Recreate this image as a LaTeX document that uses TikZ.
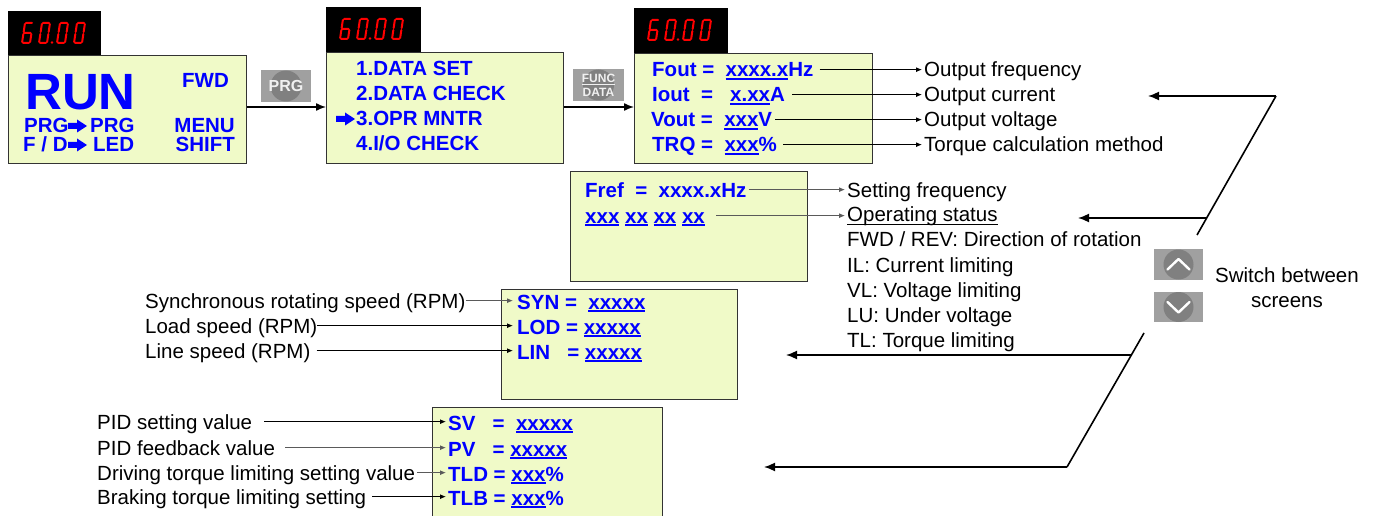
\documentclass[tikz,border=0pt]{standalone}
\usepackage{fontspec}
\setmainfont{Liberation Sans}
\usetikzlibrary{arrows.meta}
\definecolor{lcd}{RGB}{240,250,200}
\definecolor{btnbox}{RGB}{160,160,160}
\definecolor{btncirc}{RGB}{128,128,128}
\definecolor{lcdblue}{RGB}{0,0,255}
\definecolor{linegray}{RGB}{90,90,90}
\newcommand\fsz{\fontsize{20.5}{25}\selectfont}
\newsavebox\ulbox
\newcommand\myul[1]{\sbox\ulbox{#1}\rlap{\rule[-3.2pt]{\wd\ulbox}{1.8pt}}\usebox\ulbox}
\newcommand\myulthin[1]{\sbox\ulbox{#1}\rlap{\rule[-2.6pt]{\wd\ulbox}{1pt}}\usebox\ulbox}
\newcommand\dsix[2]{\begin{scope}[shift={(#1,#2)}, x={(1pt,0pt)}, y={(-0.15pt,-1pt)}]
 \draw[segs] (1,0)--(7,0) (0,1)--(0,9) (1,10)--(7,10) (0,11)--(0,19) (8,11)--(8,19) (1,20)--(7,20);
\end{scope}}
\newcommand\dzero[2]{\begin{scope}[shift={(#1,#2)}, x={(1pt,0pt)}, y={(-0.15pt,-1pt)}]
 \draw[segs] (1,0)--(7,0) (0,1)--(0,9) (8,1)--(8,9) (0,11)--(0,19) (8,11)--(8,19) (1,20)--(7,20);
\end{scope}}
\newcommand\sixty[2]{%
 \dsix{#1+17}{#2+12}\dzero{#1+34}{#2+12}%
 \fill[red] (#1+44,#2+31.5) circle (1.3);%
 \dzero{#1+52}{#2+12}\dzero{#1+69}{#2+12}}
\newcommand\blarrow[2]{\fill[lcdblue] (#1,#2) ++(0,-3) -- ++(9,0) -- ++(0,-3.5) -- ++(10,6.5) -- ++(-10,6.5) -- ++(0,-3.5) -- ++(-9,0) -- cycle;}
\begin{document}
\begin{tikzpicture}[x=1pt,y=-1pt,
 segs/.style={red, line width=2pt, line cap=round},
 bt/.style={font=\bfseries\fsz, text=lcdblue, inner sep=0pt, anchor=base west, text height=14.7pt, text depth=0pt},
 lt/.style={font=\fsz, text=black, inner sep=0pt, anchor=base west, text height=14.7pt, text depth=0pt},
 screen/.style={draw=black!80, line width=1.2pt, fill=lcd, inner sep=0pt, anchor=north west},
 disp/.style={fill=black, draw=none, inner sep=0pt, anchor=south west},
 btn/.style={fill=btnbox, draw=none, inner sep=0pt},
 lab/.style={-{Latex[length=6pt,width=5pt]}, line width=1pt, shorten >=2pt},
 labg/.style={lab, draw=linegray},
 flow/.style={-{Latex[length=10pt,width=8pt]}, line width=1.4pt},
 sw/.style={-{Latex[length=11pt,width=9pt]}, line width=1.6pt},
 swl/.style={line width=1.6pt},
]
\useasboundingbox (0,0) rectangle (1377,516);
\fill[white] (0,0) rectangle (1377,516);
\clip (0,0) rectangle (1377,516);

% ---------- screen 1 ----------
\node[disp, minimum width=93, minimum height=44] (d1) at (8,55) {};
\node[screen, minimum width=238, minimum height=108] (b1) at (8,55) {};
\sixty{8}{11}
\node[bt, font=\bfseries\fontsize{51}{51}\selectfont, text height=36.5pt] (run) at (25,110) {RUN};
\node[bt] (fwd) at (182,88) {FWD};
\node[bt] (prga) at (24,133) {PRG};
\blarrow{68}{126}
\node[bt] (prgb) at (90,133) {PRG};
\node[bt] (fd) at (23,152) {F / D};
\blarrow{68}{145}
\node[bt] (led) at (93,152) {LED};
\node[bt, anchor=base east] (menu) at (235,133) {MENU};
\node[bt, anchor=base east] (shft) at (235,152) {SHIFT};

% ---------- screen 2 ----------
\node[disp, minimum width=95, minimum height=45] (d2) at (326,52) {};
\node[screen, minimum width=237, minimum height=111] (b2) at (326,52) {};
\sixty{326}{7}
\node[bt] (m1) at (356,76) {1.DATA SET};
\node[bt] (m2) at (356,101) {2.DATA CHECK};
\blarrow{336}{119}
\node[bt] (m3) at (356,126) {3.OPR MNTR};
\node[bt] (m4) at (356,151) {4.I/O CHECK};

% ---------- screen 3 ----------
\node[disp, minimum width=94, minimum height=45] (d3) at (634,53) {};
\node[screen, minimum width=238, minimum height=110] (b3) at (634,53) {};
\sixty{634}{8}
\node[bt] (fout) at (652,77) {Fout~=~~\myul{xxxx.x}Hz};
\node[bt] (iout) at (652,102) {Iout~~=~~~\myul{x.xx}A};
\node[bt] (vout) at (651,127) {Vout~=~~\myul{xxx}V};
\node[bt] (trq) at (652,152) {TRQ~=~~\myul{xxx}\%};
\node[lt] (lfout) at (924,77) {Output frequency};
\node[lt] (liout) at (924,102) {Output current};
\node[lt] (lvout) at (924,127) {Output voltage};
\node[lt] (ltrq) at (924,152) {Torque calculation method};
\draw[lab, shorten <=6pt] (fout.east) -- (lfout.west);
\draw[lab, shorten <=7pt] (iout.east) -- (liout.west);
\draw[lab, shorten <=3pt] (vout.east) -- (lvout.west);
\draw[lab, shorten <=6pt] (trq.east) -- (ltrq.west);

% ---------- buttons between screens ----------
\node[btn, minimum width=50, minimum height=32] (prgbtn) at (286,86) {};
\fill[btncirc] (prgbtn.center) circle (15.5);
\node[text=white!94!black, font=\bfseries\fontsize{16}{16}\selectfont, inner sep=0pt] (prgtxt) at (prgbtn.center) {PRG};
\node[btn, minimum width=51, minimum height=32] (fdbtn) at (598.5,85) {};
\fill[btncirc] (fdbtn.center) circle (15.5);
\node[text=white!94!black, font=\bfseries\fontsize{12}{12}\selectfont, inner sep=0pt] (functxt) at (598.5,78.5) {FUNC};
\node[text=white!94!black, font=\bfseries\fontsize{12}{12}\selectfont, inner sep=0pt] (datatxt) at (598.5,92.5) {DATA};
\draw[white!94!black, line width=1pt] (fdbtn.center -| functxt.west) -- (fdbtn.center -| functxt.east);

\coordinate (flowy) at (0,107);
\draw[flow] (b1.east |- flowy) -- (b2.west |- flowy);
\draw[flow] (b2.east |- flowy) -- (b3.west |- flowy);

% ---------- Fref screen ----------
\node[screen, minimum width=237, minimum height=110] (b4) at (570,171) {};
\node[bt] (fref) at (585,197) {Fref~~=~~xxxx.xHz};
\node[bt] (stat) at (585,223) {\myul{xxx} \myul{xx} \myul{xx} \myul{xx}};
\node[lt] (lset) at (847,197) {Setting frequency};
\node[lt] (lstat) at (847,222) {\myulthin{Operating status}};
\node[lt] (lfwd) at (847,247) {FWD / REV: Direction of rotation};
\node[lt] (lil) at (847,272) {IL: Current limiting};
\node[lt] (lvl) at (847,297) {VL: Voltage limiting};
\node[lt] (llu) at (847,322) {LU: Under voltage};
\node[lt] (ltl) at (847,347) {TL: Torque limiting};
\draw[labg, shorten <=2pt] (fref.east) -- (fref.east -| lset.west);
\draw[labg, shorten <=11pt] (stat.east) -- (stat.east -| lstat.west);

% ---------- SYN screen ----------
\node[screen, minimum width=236, minimum height=110] (b5) at (501,289) {};
\node[bt] (syn) at (517,309) {SYN~=~~\myul{xxxxx}};
\node[bt] (lod) at (517,334) {LOD~=~\myul{xxxxx}};
\node[bt] (lin) at (517,359) {LIN~~~=~\myul{xxxxx}};
\node[lt] (lsyn) at (145,308) {Synchronous rotating speed (RPM)};
\node[lt] (llod) at (145,333) {Load speed (RPM)};
\node[lt] (llin) at (145,358) {Line speed (RPM)};
\draw[labg, shorten >=4pt] (lsyn.east) -- (lsyn.east -| syn.west);
\draw[lab, shorten >=4pt] (llod.east) -- (llod.east -| lod.west);
\draw[lab, shorten >=4pt, shorten <=6pt] (llin.east) -- (llin.east -| lin.west);

% ---------- SV screen ----------
\node[screen, minimum width=230, minimum height=125] (b6) at (432,407) {};
\node[bt] (sv) at (448,430) {SV~~~=~~\myul{xxxxx}};
\node[bt] (pv) at (448,456) {PV~~~=~\myul{xxxxx}};
\node[bt] (tld) at (448,481) {TLD~=~\myul{xxx}\%};
\node[bt] (tlb) at (448,505) {TLB~=~\myul{xxx}\%};
\node[lt] (lsv) at (97,429) {PID setting value};
\node[lt] (lpv) at (97,455) {PID feedback value};
\node[lt] (ltld) at (97,480) {Driving torque limiting setting value};
\node[lt] (ltlb) at (97,504) {Braking torque limiting setting};
\draw[lab, shorten <=12pt] (lsv.east) -- (lsv.east -| sv.west);
\draw[labg, shorten <=10pt] (lpv.east) -- (lpv.east -| pv.west);
\draw[labg, shorten <=2pt] (ltld.east) -- (ltld.east -| tld.west);
\draw[lab, shorten <=6pt] (ltlb.east) -- (ltlb.east -| tlb.west);

% ---------- up / down buttons ----------
\node[btn, minimum width=49, minimum height=31] (upb) at (1178.5,264.5) {};
\fill[btncirc] (upb.center) circle (15);
\draw[white, line width=2.4pt, line cap=round, line join=round] ([shift={(-11,5)}]upb.center) -- ([shift={(0,-5.5)}]upb.center) -- ([shift={(11,5)}]upb.center);
\node[btn, minimum width=49, minimum height=30] (dnb) at (1178.5,307) {};
\fill[btncirc] (dnb.center) circle (15);
\draw[white, line width=2.4pt, line cap=round, line join=round] ([shift={(-11,-5)}]dnb.center) -- ([shift={(0,5.5)}]dnb.center) -- ([shift={(11,-5)}]dnb.center);
\node[font=\fsz, align=center, inner sep=0pt, anchor=base] (swt) at (1287,307) {Switch between\\screens};

% ---------- screen switching arrows ----------
\coordinate (u0) at (1276,96);
\coordinate (u1) at (1148,96);
\coordinate (u2) at (1197,235);
\coordinate (u3) at (1207,218);
\coordinate (u4) at (1078,218);
\draw[sw] (u0) -- (u1);
\draw[swl] (u0) -- (u2);
\draw[sw] (u3) -- (u4);
\coordinate (v0) at (1144,333);
\coordinate (v1) at (1067,467);
\coordinate (v2) at (1131,355);
\coordinate (v3) at (786,355);
\coordinate (v4) at (764,467);
\draw[swl] (v0) -- (v1);
\draw[sw] (v1) -- (v4);
\draw[sw] (v2) -- (v3);
\end{tikzpicture}
\end{document}
